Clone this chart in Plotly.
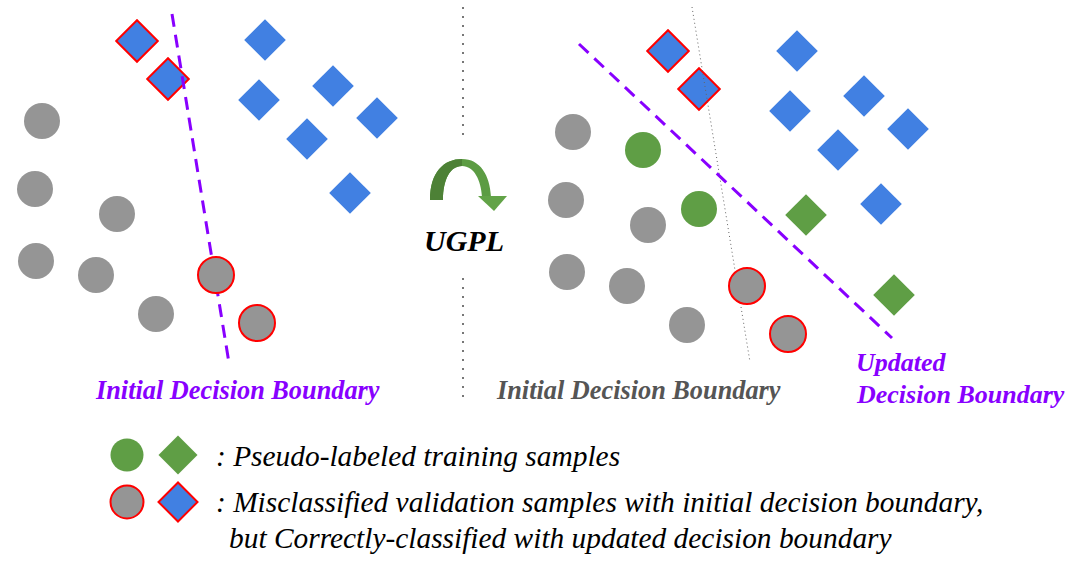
import plotly.graph_objects as go

# ---------------- data ----------------
left_gray_x = [42, 35, 117, 36, 96, 156]
left_gray_y = [121, 189, 214, 261, 275, 314]
left_redcircle_x = [216, 257]
left_redcircle_y = [275, 323]
left_blue_x = [265, 259, 333, 307, 377, 350]
left_blue_y = [40, 100, 86, 139, 118, 193]
left_reddiamond_x = [137, 168]
left_reddiamond_y = [41, 79]
left_boundary_x = [172, 229]
left_boundary_y = [14, 363]

right_gray_x = [573, 566, 648, 567, 627, 687]
right_gray_y = [132, 200, 225, 272, 286, 325]
right_redcircle_x = [747, 788]
right_redcircle_y = [286, 334]
right_greencircle_x = [643, 699]
right_greencircle_y = [150, 209]
right_reddiamond_x = [668, 699]
right_reddiamond_y = [51, 89]
right_blue_x = [797, 790, 864, 838, 908, 881]
right_blue_y = [51, 111, 96, 150, 129, 204]
right_greendiamond_x = [806, 894]
right_greendiamond_y = [215, 295]
right_initial_x = [692, 750]
right_initial_y = [7, 362]
right_updated_x = [579, 892]
right_updated_y = [44, 338]

divider_top_x = [463, 463]
divider_top_y = [7, 138]
divider_bot_x = [463, 463]
divider_bot_y = [278, 400]

legend_circle_x = [127, 127]
legend_circle_y = [455, 502]
legend_diamond_x = [178, 178]
legend_diamond_y = [455, 502]

label_initial = "Initial Decision Boundary"
label_updated_1 = "Updated"
label_updated_2 = "Decision Boundary"
label_method = "UGPL"
legend_line1 = ": Pseudo-labeled training samples"
legend_line2 = ": Misclassified validation samples with initial decision boundary,"
legend_line3 = "but Correctly-classified with updated decision boundary"

# ---------------- style ----------------
GRAY = "#959595"
BLUE = "#4180e2"
GREEN = "#5f9e45"
RED = "#ff0000"
PURPLE = "#8800ff"
SERIF = "Liberation Serif"

fig = go.Figure()

def markers(x, y, symbol, color, size, outline=None):
    fig.add_trace(go.Scatter(
        x=x, y=y, mode="markers", hoverinfo="skip",
        marker=dict(symbol=symbol, color=color, size=size,
                    line=dict(color=outline if outline else color,
                              width=2 if outline else 0))))

def line(x, y, color, width, dash):
    fig.add_trace(go.Scatter(x=x, y=y, mode="lines", hoverinfo="skip",
                             line=dict(color=color, width=width, dash=dash)))

# left panel
markers(left_blue_x, left_blue_y, "diamond", BLUE, 32)
markers(left_reddiamond_x, left_reddiamond_y, "diamond", BLUE, 32, RED)
line(left_boundary_x, left_boundary_y, PURPLE, 3, "13px,8px")
markers(left_gray_x, left_gray_y, "circle", GRAY, 36)
markers(left_redcircle_x, left_redcircle_y, "circle", GRAY, 36, RED)

# divider
line(divider_top_x, divider_top_y, "#777777", 2, "2px,7px")
line(divider_bot_x, divider_bot_y, "#777777", 2, "2px,7px")

# right panel
markers(right_blue_x, right_blue_y, "diamond", BLUE, 32)
markers(right_reddiamond_x, right_reddiamond_y, "diamond", BLUE, 32, RED)
markers(right_greendiamond_x, right_greendiamond_y, "diamond", GREEN, 32)
line(right_initial_x, right_initial_y, "#666666", 1, "1px,3px")
line(right_updated_x, right_updated_y, PURPLE, 3, "13px,8px")
markers(right_gray_x, right_gray_y, "circle", GRAY, 36)
markers(right_greencircle_x, right_greencircle_y, "circle", GREEN, 36)
markers(right_redcircle_x, right_redcircle_y, "circle", GRAY, 36, RED)

# legend symbols
markers(legend_circle_x[:1], legend_circle_y[:1], "circle", GREEN, 33)
markers(legend_diamond_x[:1], legend_diamond_y[:1], "diamond", GREEN, 30)
markers(legend_circle_x[1:], legend_circle_y[1:], "circle", GRAY, 33, RED)
markers(legend_diamond_x[1:], legend_diamond_y[1:], "diamond", BLUE, 30, RED)

# curved arrow (two tones to suggest the gradient)
fig.add_shape(type="path", xref="x", yref="y", line=dict(width=0),
              fillcolor="#5c9c43",
              path=("M 430 200 C 430 172, 444 159, 462 159 "
                    "C 480 159, 490 175, 491 197 L 482 197 "
                    "C 481 180, 474 166, 462 166 C 450 166, 443 180, 443 200 Z"))
fig.add_shape(type="path", xref="x", yref="y", line=dict(width=0),
              fillcolor="#4d8136",
              path=("M 430 200 C 430 172, 444 159, 462 159 "
                    "L 462 166 C 450 166, 443 180, 443 200 Z"))
fig.add_shape(type="path", xref="x", yref="y", line=dict(width=0),
              fillcolor="#62a347",
              path="M 478 196 L 507 196 L 494 211 Z")

def text(x, y, s, size, color, xanchor="center", bold=False, italic=True):
    t = s
    if italic:
        t = "<i>" + t + "</i>"
    if bold:
        t = "<b>" + t + "</b>"
    fig.add_annotation(x=x, y=y, xref="x", yref="y", text=t, showarrow=False,
                       xanchor=xanchor, yanchor="middle",
                       font=dict(family=SERIF, size=size, color=color))

text(237, 390, label_initial, 26.3, PURPLE, bold=True)
text(638, 390, label_initial, 26.3, "#555555", bold=True)
text(854, 362, label_updated_1, 26, PURPLE, xanchor="left", bold=True)
text(854, 394, label_updated_2, 26, PURPLE, xanchor="left", bold=True)
text(464, 240, label_method, 30, "#000000", bold=True)
text(214, 456, legend_line1, 29.4, "#000000", xanchor="left")
text(214, 502, legend_line2, 29.4, "#000000", xanchor="left")
text(227, 538, legend_line3, 29.4, "#000000", xanchor="left")

fig.update_layout(
    width=1079, height=563, autosize=False,
    margin=dict(l=0, r=0, t=0, b=0),
    paper_bgcolor="white", plot_bgcolor="white",
    showlegend=False,
    font=dict(family=SERIF),
    xaxis=dict(range=[0, 1079], visible=False, fixedrange=True),
    yaxis=dict(range=[563, 0], visible=False, fixedrange=True),
)

fig.write_html("out.html", config={"displayModeBar": False},
               post_script="document.body.style.margin='0';document.body.style.overflow='hidden';")
